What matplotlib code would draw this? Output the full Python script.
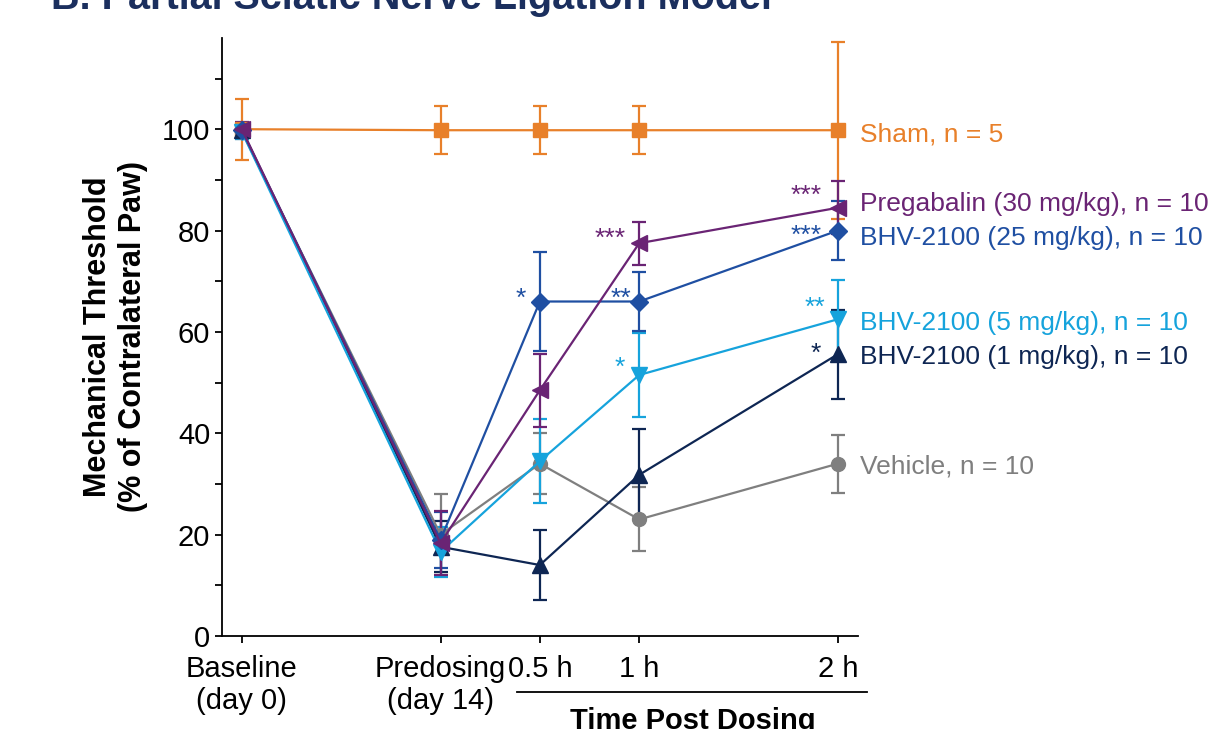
import numpy as np
import matplotlib
matplotlib.use("Agg")
import matplotlib.pyplot as plt
import matplotlib.transforms as mtransforms
from matplotlib.ticker import MultipleLocator

plt.rcParams['font.family'] = ['Liberation Sans', 'DejaVu Sans']

# time points (x positions follow the original spacing)
x_pos = [0, 2, 3, 4, 6]
tick_labels = ["Baseline\n(day 0)", "Predosing\n(day 14)", "0.5 h", "1 h", "2 h"]

sham = [100, 99.8, 99.8, 99.8, 99.8]
sham_err = [6.0, 4.7, 4.7, 4.7, 17.5]
pregabalin = [100, 18.3, 48.5, 77.5, 84.5]
pregabalin_err = [1.5, 6.3, 7.2, 4.2, 5.2]
bhv25 = [99.8, 19.0, 66.0, 66.0, 80.0]
bhv25_err = [1.5, 5.5, 9.8, 5.8, 5.8]
bhv5 = [99.5, 16.6, 34.5, 51.5, 62.5]
bhv5_err = [1.5, 5.0, 8.3, 8.3, 7.8]
bhv1 = [99.8, 17.6, 14.0, 31.8, 55.6]
bhv1_err = [1.5, 5.0, 6.9, 9.0, 8.8]
vehicle = [99.5, 20.0, 34.0, 23.0, 34.0]
vehicle_err = [1.5, 8.0, 6.0, 6.3, 5.7]

labels = ["Sham, n = 5", "Vehicle, n = 10", "BHV-2100 (1 mg/kg), n = 10",
          "BHV-2100 (5 mg/kg), n = 10", "BHV-2100 (25 mg/kg), n = 10",
          "Pregabalin (30 mg/kg), n = 10"]
label_y = [99, 33.5, 55, 61.7, 78.5, 85.2]
colors = ["#E8802A", "#7F7F7F", "#0E2653", "#16A3DC", "#1F4FA2", "#6A2474"]
markers = ["s", "o", "^", "v", "D", "<"]
msizes = [10, 10, 11, 11, 9, 11]
series = [sham, vehicle, bhv1, bhv5, bhv25, pregabalin]
errors = [sham_err, vehicle_err, bhv1_err, bhv5_err, bhv25_err, pregabalin_err]

# significance marks: (x, y, text, series index)
stars = [(3, 67.7, "*", 4), (4, 67.7, "**", 4), (4, 79.5, "***", 5), (4, 54, "*", 3),
         (6, 88, "***", 5), (6, 80.1, "***", 4), (6, 65.9, "**", 3), (6, 56.8, "*", 2)]
star_dx = [-10, -6, -10, -10, -12, -12, -9, -12]

fig = plt.figure(figsize=(12.11, 7.29), dpi=100)
ax = fig.add_axes([0.1833, 0.1276, 0.525, 0.8203])

for vals, err, c, m, ms, lab, ly in zip(series, errors, colors, markers, msizes, labels, label_y):
    ax.errorbar(x_pos, vals, yerr=err, color=c, marker=m, markersize=ms, lw=1.6,
                elinewidth=1.6, capsize=5, capthick=1.6, clip_on=False, zorder=3)
    ax.annotate(lab, xy=(x_pos[-1], ly), xytext=(16, 0), textcoords="offset points",
                color=c, fontsize=19, va="center", ha="left", annotation_clip=False)

for (sx, sy, txt, i), dx in zip(stars, star_dx):
    ax.annotate(txt, xy=(sx, sy), xytext=(dx, -9), textcoords="offset points",
                color=colors[i], fontsize=19, ha="right", va="baseline")

ax.set_xlim(-0.2, 6.2)
ax.set_ylim(0, 118)
ax.set_xticks(x_pos)
ax.set_xticklabels(tick_labels, fontsize=21, linespacing=1.15)
ax.yaxis.set_major_locator(MultipleLocator(20))
ax.yaxis.set_minor_locator(MultipleLocator(10))
ax.tick_params(axis="y", labelsize=21)
ax.tick_params(which="both", direction="out", length=5, width=1.3, color="black")
ax.tick_params(axis="x", pad=9)
for s in ["top", "right"]:
    ax.spines[s].set_visible(False)
for s in ["left", "bottom"]:
    ax.spines[s].set_linewidth(1.3)

ax.set_ylabel("Mechanical Threshold\n(% of Contralateral Paw)", fontsize=22,
              fontweight="bold", labelpad=10, linespacing=1.2)

# bracket line for post-dosing time points
trans = mtransforms.blended_transform_factory(ax.transData, ax.transAxes)
ax.plot([2.77, 6.29], [-0.094, -0.094], color="black", lw=1.3, transform=trans, clip_on=False)
fig.text(693 / 1211, 0.0, "Time Post Dosing", fontsize=21, fontweight="bold",
         ha="center", va="baseline")

fig.text(51 / 1211, 1 - 9 / 729, "B. Partial Sciatic Nerve Ligation Model", fontsize=28.5,
         fontweight="bold", color="#1B2F5E", ha="left", va="baseline")

fig.savefig("out.png", dpi=100)
